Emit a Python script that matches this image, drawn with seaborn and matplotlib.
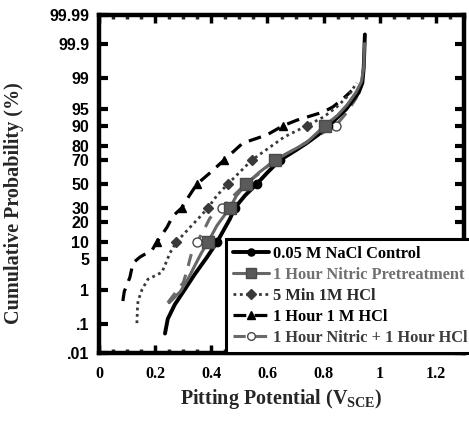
import numpy as np
import pandas as pd
import matplotlib
matplotlib.use("Agg")
import matplotlib.pyplot as plt
import seaborn as sns
from statistics import NormalDist

# ---------------- data (x = pitting potential V_SCE, p = cumulative probability %) -------------
ctrl_x = [0.235, 0.245, 0.27, 0.305, 0.34, 0.385, 0.42, 0.466, 0.484, 0.52, 0.562, 0.60, 0.644,
          0.70, 0.74, 0.78, 0.815, 0.845, 0.88, 0.905, 0.925, 0.938, 0.943, 0.947]
ctrl_p = [0.05, 0.15, 0.4, 1.0, 2.3, 5.4, 10, 22, 30, 40, 50, 60, 70,
          77, 81.6, 86, 90, 92.5, 95, 96.8, 97.8, 98.7, 99.5, 99.95]

nit_x = [0.25, 0.29, 0.32, 0.345, 0.365, 0.388, 0.42, 0.466, 0.49, 0.525, 0.57, 0.627, 0.68,
         0.74, 0.804, 0.85, 0.885, 0.915, 0.935, 0.943, 0.946]
nit_p = [0.45, 0.9, 2, 4, 6.5, 10, 18, 30, 40, 50, 60, 70, 76,
         82, 90, 93.5, 96, 97.8, 98.8, 99.5, 99.9]

min5_x = [0.135, 0.137, 0.139, 0.153, 0.174, 0.224, 0.235, 0.253, 0.275, 0.324, 0.359, 0.388,
          0.42, 0.459, 0.50, 0.544, 0.60, 0.66, 0.74, 0.80, 0.847, 0.89, 0.918]
min5_p = [0.11, 0.3, 0.5, 1.0, 1.8, 2.6, 3.7, 6.5, 10, 17, 23.4, 30,
          40, 50, 60, 70, 78, 85, 90, 93, 95.5, 97.5, 98.7]

hcl1_x = [0.085, 0.09, 0.11, 0.121, 0.146, 0.189, 0.206, 0.242, 0.263, 0.295, 0.322, 0.349,
          0.397, 0.445, 0.512, 0.598, 0.655, 0.705, 0.797, 0.833, 0.87, 0.90]
hcl1_p = [0.5, 0.9, 2, 4.1, 5.4, 7.3, 10, 17, 24, 30, 40, 50,
          60, 70, 81.6, 86, 90, 92, 94.3, 95.5, 97, 98]

nh_x = [0.245, 0.27, 0.30, 0.315, 0.322, 0.33, 0.349, 0.377, 0.395, 0.438, 0.48, 0.522, 0.575,
        0.625, 0.70, 0.77, 0.843, 0.88, 0.915, 0.935]
nh_p = [0.45, 0.8, 1.5, 3, 4.5, 6.5, 10, 16.6, 22.7, 30, 40, 50, 60,
        70, 78, 85, 90, 94, 97, 98.5]

marker_levels = [10, 30, 50, 70, 90]

y_ticks = [0.01, 0.1, 1, 5, 10, 20, 30, 50, 70, 80, 90, 95, 99, 99.9, 99.99]
y_ticklabels = ['.01', '.1', '1', '5', '10', '20', '30', '50', '70', '80', '90', '95', '99',
                '99.9', '99.99']
x_ticks = [0, 0.2, 0.4, 0.6, 0.8, 1.0, 1.2]
x_ticklabels = ['0', '0.2', '0.4', '0.6', '0.8', '1', '1.2']

# ---------------- style -------------
sns.set_theme(style="white")
plt.rcParams['font.family'] = ['Liberation Serif', 'DejaVu Serif']
plt.rcParams['font.weight'] = 'bold'
plt.rcParams['mathtext.fontset'] = 'custom'
plt.rcParams['mathtext.rm'] = 'Liberation Serif:bold'
plt.rcParams['mathtext.it'] = 'Liberation Serif:bold'
plt.rcParams['mathtext.bf'] = 'Liberation Serif:bold'

fig = plt.figure(figsize=(4.69, 4.23), dpi=100)
ax = fig.add_axes([99 / 469, 1 - 353 / 423, 365 / 469, 338 / 423])

_nd = NormalDist()
_ppf = np.vectorize(lambda v: _nd.inv_cdf(min(max(v / 100.0, 1e-9), 1 - 1e-9)), otypes=[float])
_cdf = np.vectorize(lambda z: 100.0 * _nd.cdf(z), otypes=[float])


def fwd(v):
    return _ppf(np.asarray(v, dtype=float))


def inv(z):
    return _cdf(np.asarray(z, dtype=float))


ax.set_yscale('function', functions=(fwd, inv))

series = [
    # name, x, p, color, lw, linestyle, marker, ms, mfc, mec, zorder
    ("1 Hour 1 M HCl", hcl1_x, hcl1_p, 'black', 2.3, (0, (4.0, 2.6)), '^', 6.2, 'black', 'black', 3),
    ("5 Min 1M HCl", min5_x, min5_p, '#3a3a3a', 2.0, (0, (1.0, 1.3)), 'D', 5.5, '#3a3a3a', '#3a3a3a', 4),
    ("1 Hour Nitric + 1 Hour HCl", nh_x, nh_p, '#6a6a6a', 2.2, (0, (4.0, 3.0)), 'o', 6.5, 'white', '#4a4a4a', 5),
    ("0.05 M NaCl Control", ctrl_x, ctrl_p, 'black', 2.8, '-', 'o', 6, 'black', 'black', 6),
    ("1 Hour Nitric Pretreatment", nit_x, nit_p, '#666666', 2.2, '-', 's', 8.5, '#5a5a5a', '#4a4a4a', 7),
]

handles = {}
for name, xs, ps, col, lw, ls, mk, ms, mfc, mec, zo in series:
    df = pd.DataFrame({"x": xs, "p": ps})
    idx = [i for i, v in enumerate(ps) if v in marker_levels]
    sns.lineplot(data=df, x="x", y="p", ax=ax, sort=False, estimator=None, color=col,
                 linewidth=lw, linestyle=ls, marker=mk, markersize=ms, markerfacecolor=mfc,
                 markeredgecolor=mec, markeredgewidth=1.0, markevery=idx, label=name,
                 zorder=zo)
    handles[name] = ax.get_lines()[-1]

ax.set_xlim(0, 1.3)
ax.set_ylim(0.01, 99.99)

ax.set_yticks(y_ticks)
ax.set_yticklabels(y_ticklabels, fontfamily='Liberation Sans', fontweight='bold', fontsize=11.5)
ax.yaxis.set_minor_locator(matplotlib.ticker.NullLocator())
ax.set_xticks(x_ticks)
ax.set_xticklabels(x_ticklabels, fontfamily='Liberation Serif', fontweight='bold', fontsize=11.5)
ax.set_xticks(np.arange(0, 1.31, 0.05), minor=True)

ax.tick_params(axis='y', which='major', direction='in', length=6.5, width=3, left=True,
               right=True, pad=7, colors='black')
ax.tick_params(axis='x', which='major', direction='in', length=6, width=2.5, bottom=True,
               top=True, pad=9, colors='black')
ax.tick_params(axis='x', which='minor', direction='in', length=3, width=2.5, bottom=True,
               top=True)

for sp in ax.spines.values():
    sp.set_linewidth(3.2)
    sp.set_color('black')
    sp.set_visible(True)

ax.set_xlabel(r'Pitting Potential (V$_{\mathrm{SCE}}$)', fontsize=14.5, fontweight='bold',
              fontfamily='Liberation Serif', labelpad=4)
ax.set_ylabel('Cumulative Probability (%)', fontsize=14.5, fontweight='bold',
              fontfamily='Liberation Serif')
ax.yaxis.set_label_coords(-0.205, 0.444)

order = ["0.05 M NaCl Control", "1 Hour Nitric Pretreatment", "5 Min 1M HCl",
         "1 Hour 1 M HCl", "1 Hour Nitric + 1 Hour HCl"]
leg = ax.legend([handles[n] for n in order], order, loc='lower left',
                bbox_to_anchor=(0.348, 0.0), frameon=True, fancybox=False, framealpha=1,
                edgecolor='black', prop={'family': 'Liberation Serif', 'weight': 'bold',
                                         'size': 11.8},
                handlelength=2.2, handletextpad=0.2, labelspacing=0.3, borderpad=0.45,
                borderaxespad=0.0, markerscale=0.85)
leg.get_frame().set_linewidth(2.2)
leg.set_zorder(10)
text_cols = ['black', '#707070', '#2a2a2a', 'black', '#3c3c3c']
for t, c in zip(leg.get_texts(), text_cols):
    t.set_color(c)

fig.savefig("out.png", dpi=100)
